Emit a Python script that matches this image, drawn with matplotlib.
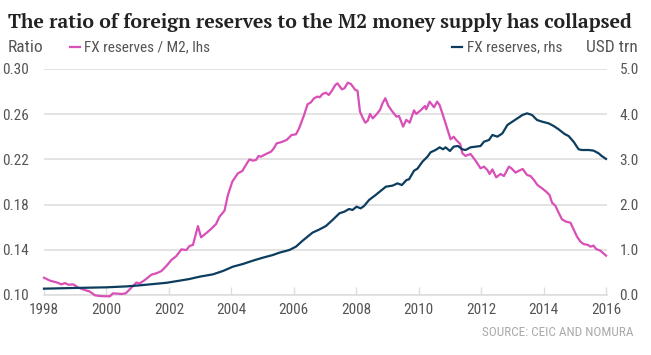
import matplotlib
matplotlib.use("Agg")
import matplotlib.pyplot as plt
from matplotlib import font_manager

# ---- data ----
ratio_years = [1998.0, 1998.19, 1998.4, 1998.56, 1998.67, 1998.78, 1998.94, 1999.1, 1999.31, 1999.47,
               1999.63, 1999.84, 2000.11, 2000.21, 2000.48, 2000.62, 2000.8, 2000.96, 2001.07, 2001.23,
               2001.44, 2001.6, 2001.76, 2001.92, 2002.08, 2002.24, 2002.4, 2002.5, 2002.56, 2002.66,
               2002.77, 2002.93, 2003.03, 2003.19, 2003.35, 2003.51, 2003.62, 2003.78, 2003.89, 2004.03,
               2004.21, 2004.35, 2004.45, 2004.58, 2004.69, 2004.79, 2004.87, 2004.95, 2005.11, 2005.27,
               2005.36, 2005.45, 2005.54, 2005.64, 2005.77, 2005.93, 2006.07, 2006.17, 2006.33, 2006.44,
               2006.54, 2006.65, 2006.76, 2006.83, 2006.92, 2007.03, 2007.12, 2007.22, 2007.33, 2007.4,
               2007.54, 2007.62, 2007.73, 2007.83, 2007.97, 2008.04, 2008.12, 2008.2, 2008.29, 2008.37,
               2008.44, 2008.53, 2008.63, 2008.76, 2008.84, 2008.93, 2009.03, 2009.16, 2009.29, 2009.37,
               2009.5, 2009.6, 2009.71, 2009.85, 2009.92, 2010.06, 2010.2, 2010.24, 2010.35, 2010.49,
               2010.59, 2010.67, 2010.81, 2010.91, 2011.02, 2011.12, 2011.2, 2011.33, 2011.4, 2011.5,
               2011.66, 2011.82, 2011.98, 2012.09, 2012.2, 2012.27, 2012.36, 2012.48, 2012.62, 2012.73,
               2012.89, 2012.97, 2013.1, 2013.21, 2013.33, 2013.47, 2013.58, 2013.69, 2013.8, 2013.95,
               2014.08, 2014.19, 2014.27, 2014.38, 2014.48, 2014.59, 2014.72, 2014.86, 2014.96, 2015.07,
               2015.18, 2015.28, 2015.42, 2015.5, 2015.6, 2015.68, 2015.82, 2016.0]
ratio_values = [0.1153, 0.1127, 0.1112, 0.1094, 0.1106, 0.1091, 0.1094, 0.1065, 0.1044, 0.1030,
                0.0997, 0.0990, 0.0988, 0.1015, 0.1009, 0.1015, 0.1065, 0.1110, 0.1103, 0.1133,
                0.1180, 0.1192, 0.1212, 0.1257, 0.1310, 0.1345, 0.1404, 0.1400, 0.1398, 0.1434,
                0.1443, 0.1610, 0.1510, 0.1546, 0.1584, 0.1628, 0.1693, 0.1746, 0.1885, 0.2003,
                0.2077, 0.2097, 0.2144, 0.2200, 0.2189, 0.2195, 0.2230, 0.2224, 0.2248, 0.2268,
                0.2298, 0.2342, 0.2348, 0.2357, 0.2372, 0.2416, 0.2422, 0.2475, 0.2593, 0.2688,
                0.2703, 0.2741, 0.2756, 0.2750, 0.2779, 0.2790, 0.2770, 0.2808, 0.2859, 0.2873,
                0.2820, 0.2829, 0.2879, 0.2867, 0.2814, 0.2808, 0.2622, 0.2572, 0.2525, 0.2543,
                0.2602, 0.2563, 0.2593, 0.2637, 0.2696, 0.2741, 0.2673, 0.2622, 0.2578, 0.2584,
                0.2490, 0.2550, 0.2525, 0.2634, 0.2602, 0.2634, 0.2673, 0.2643, 0.2711, 0.2661,
                0.2711, 0.2680, 0.2563, 0.2475, 0.2378, 0.2401, 0.2372, 0.2336, 0.2254, 0.2231,
                0.2248, 0.2189, 0.2121, 0.2136, 0.2106, 0.2071, 0.2112, 0.2041, 0.2071, 0.2053,
                0.2136, 0.2121, 0.2083, 0.2100, 0.2115, 0.2062, 0.2053, 0.2018, 0.1974, 0.1944,
                0.1915, 0.1885, 0.1817, 0.1788, 0.1729, 0.1669, 0.1649, 0.1640, 0.1581, 0.1516,
                0.1472, 0.1451, 0.1443, 0.1428, 0.1437, 0.1407, 0.1392, 0.1348]

fx_years = [1998.0, 1998.94, 2000.0, 2000.64, 2001.07, 2001.92, 2002.34, 2002.66, 2002.98, 2003.41,
            2003.73, 2004.05, 2004.37, 2004.69, 2005.01, 2005.33, 2005.54, 2005.86, 2006.07, 2006.28,
            2006.6, 2006.82, 2007.03, 2007.24, 2007.46, 2007.62, 2007.77, 2007.88, 2008.01, 2008.14,
            2008.25, 2008.41, 2008.62, 2008.79, 2008.95, 2009.16, 2009.32, 2009.46, 2009.61, 2009.69,
            2009.85, 2009.96, 2010.12, 2010.28, 2010.38, 2010.54, 2010.67, 2010.78, 2010.86, 2011.0,
            2011.12, 2011.26, 2011.39, 2011.5, 2011.66, 2011.98, 2012.09, 2012.25, 2012.36, 2012.52,
            2012.68, 2012.84, 2013.0, 2013.16, 2013.32, 2013.47, 2013.63, 2013.79, 2013.95, 2014.16,
            2014.32, 2014.48, 2014.67, 2014.8, 2014.96, 2015.12, 2015.22, 2015.44, 2015.6, 2015.76,
            2015.86, 2016.0]
fx_values = [0.14, 0.155, 0.17, 0.19, 0.214, 0.27, 0.317, 0.354, 0.405, 0.457,
             0.531, 0.627, 0.686, 0.76, 0.826, 0.885, 0.937, 0.996, 1.07, 1.20,
             1.38, 1.45, 1.527, 1.659, 1.807, 1.844, 1.903, 1.881, 1.954, 1.917,
             1.969, 2.102, 2.212, 2.308, 2.397, 2.419, 2.47, 2.433, 2.544, 2.559,
             2.75, 2.795, 2.95, 3.06, 3.157, 3.208, 3.267, 3.224, 3.267, 3.186,
             3.282, 3.297, 3.224, 3.208, 3.267, 3.296, 3.392, 3.429, 3.54, 3.503,
             3.576, 3.761, 3.835, 3.908, 3.982, 4.019, 3.982, 3.872, 3.835, 3.798,
             3.74, 3.666, 3.563, 3.517, 3.392, 3.224, 3.208, 3.208, 3.194, 3.135,
             3.076, 3.01]

x_ticks = [1998, 2000, 2002, 2004, 2006, 2008, 2010, 2012, 2014, 2016]
left_ticks = [0.10, 0.14, 0.18, 0.22, 0.26, 0.30]
right_ticks = [0.0, 1.0, 2.0, 3.0, 4.0, 5.0]

title = "The ratio of foreign reserves to the M2 money supply has collapsed"
label_ratio = "FX reserves / M2, lhs"
label_fx = "FX reserves, rhs"
source = "SOURCE: CEIC AND NOMURA"

PINK = "#d84fb7"
NAVY = "#0c3d5e"
GRID = "#dedede"
TXT = "#555555"

avail = {f.name for f in font_manager.fontManager.ttflist}


def pick(cands, default):
    for c in cands:
        if c in avail:
            return c
    return default


cond = pick(["Roboto Condensed", "Fira Sans Condensed", "PT Sans Narrow", "Archivo Narrow",
             "Barlow Semi Condensed", "Asap Condensed"], "DejaVu Sans")
serif = pick(["PT Serif", "Source Serif 4", "Source Serif Pro", "Noto Serif", "Liberation Serif"],
             "DejaVu Serif")

fig = plt.figure(figsize=(6.51, 3.55), dpi=100)
ax = fig.add_axes([44 / 651, 1 - 295 / 355, (607 - 44) / 651, (295 - 69) / 355])
ax2 = ax.twinx()

ax.plot(ratio_years, ratio_values, color=PINK, lw=1.6, clip_on=False, zorder=3)
ax2.plot(fx_years, fx_values, color=NAVY, lw=1.6, clip_on=False, zorder=3)

ax.set_xlim(1998, 2016.03)
ax.set_ylim(0.10, 0.30)
ax2.set_ylim(0.0, 5.0)

ax.set_xticks(x_ticks)
ax.set_xticklabels([str(t) for t in x_ticks])
ax.set_yticks(left_ticks)
ax.set_yticklabels([f"{t:.2f}" for t in left_ticks])
ax2.set_yticks(right_ticks)
ax2.set_yticklabels([f"{t:.1f}" for t in right_ticks])

for a in (ax, ax2):
    for s in a.spines.values():
        s.set_visible(False)
ax.spines["bottom"].set_visible(True)
ax.spines["bottom"].set_color(GRID)
ax.spines["bottom"].set_linewidth(1.2)

ax.grid(axis="y", color=GRID, lw=1.2)
ax.set_axisbelow(True)
fs = 11
ax.tick_params(axis="x", direction="in", length=6, width=1.0, color=GRID, pad=6,
               labelsize=fs, labelcolor=TXT)
ax.tick_params(axis="y", length=0, pad=11, labelsize=fs, labelcolor=TXT)
ax2.tick_params(axis="y", length=0, pad=9, labelsize=fs, labelcolor=TXT)
for lab in ax.get_xticklabels() + ax.get_yticklabels() + ax2.get_yticklabels():
    lab.set_fontfamily(cond)

t = fig.text(8 / 651, 1 - 22 / 355, title, fontsize=15, fontweight="bold",
             family=serif, color="#222222", va="center", ha="left")
# fit title width to reference (about 627 px)
r = fig.canvas.get_renderer()
w = t.get_window_extent(r).width
t.set_fontsize(15 * 627 / w)

fig.text(8 / 651, 1 - 47 / 355, "Ratio", fontsize=12.5, family=cond,
         color=TXT, va="center", ha="left")
fig.text(638 / 651, 1 - 47 / 355, "USD trn", fontsize=12.5, family=cond,
         color=TXT, va="center", ha="right")

# legend entries
fig.add_artist(plt.Line2D([70 / 651, 80 / 651], [1 - 47 / 355] * 2, color=PINK, lw=1.6))
fig.text(84 / 651, 1 - 47 / 355, label_ratio, fontsize=11, family=cond,
         color=TXT, va="center", ha="left")
fig.add_artist(plt.Line2D([452 / 651, 462 / 651], [1 - 47 / 355] * 2, color=NAVY, lw=1.6))
fig.text(467 / 651, 1 - 47 / 355, label_fx, fontsize=11, family=cond,
         color=TXT, va="center", ha="left")

fig.text(634 / 651, 1 - 333 / 355, source, fontsize=9.5, family=cond,
         color="#aaaaaa", va="center", ha="right")

fig.savefig("out.png", dpi=100)
